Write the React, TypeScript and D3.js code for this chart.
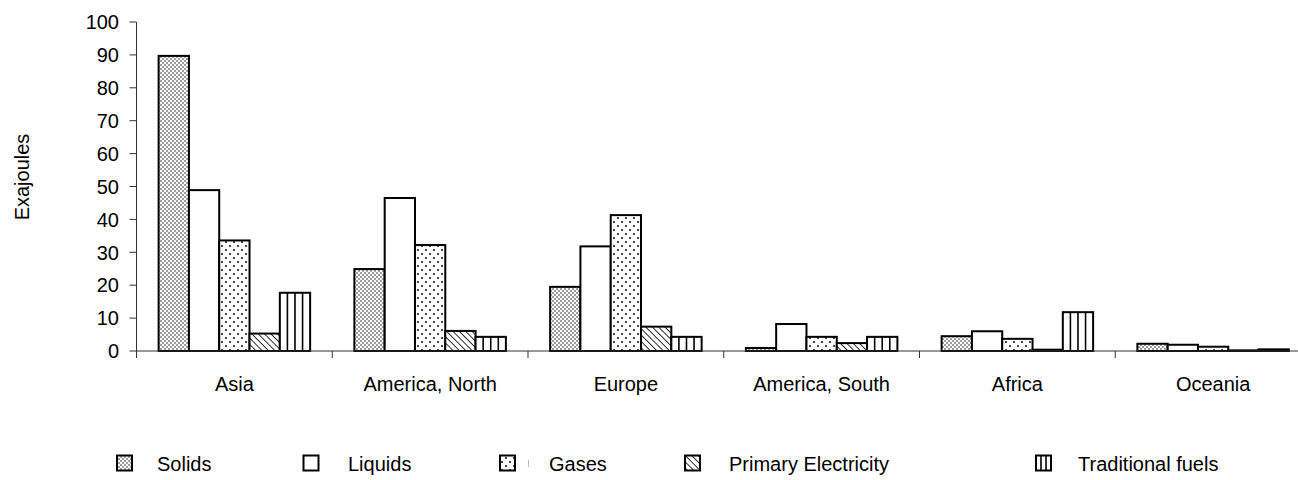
import React from 'react';
import * as d3 from 'd3';

const regions = ['Asia', 'America, North', 'Europe', 'America, South', 'Africa', 'Oceania'];
const seriesNames = ['Solids', 'Liquids', 'Gases', 'Primary Electricity', 'Traditional fuels'];

const solids = [89.7, 24.9, 19.5, 0.9, 4.5, 2.2];
const liquids = [48.9, 46.5, 31.8, 8.2, 6.0, 1.9];
const gases = [33.6, 32.2, 41.3, 4.3, 3.7, 1.3];
const primaryElectricity = [5.3, 6.1, 7.4, 2.4, 0.4, 0.2];
const traditionalFuels = [17.7, 4.3, 4.3, 4.3, 11.8, 0.5];

const yTicks = [0, 10, 20, 30, 40, 50, 60, 70, 80, 90, 100];

const seriesValues = [solids, liquids, gases, primaryElectricity, traditionalFuels];

const WIDTH = 1298,
    HEIGHT = 480;

const PLOT = {
    LEFT: 136.5,
    RIGHT: 1311,
    TOP: 22,
    BOTTOM: 351
};

const FONT = '"Liberation Sans", Arial, sans-serif';

// legend layout: swatch left edge and text left edge
const legendSwatchX = [117, 303.5, 500, 685, 1036];
const legendTextX = [157, 348, 549, 729, 1078];

const fills = ['url(#pat-solids)', '#fff', 'url(#pat-gases)', 'url(#pat-elec)', '#fff'];

const VerticalLines = ({ x, y, w, h, cells }: { x: number, y: number, w: number, h: number, cells: number }) => {
    const lines = d3.range(1, cells).map(k => x + k * w / cells);
    return (
        <g>
            {lines.map((lx, i) => <line key={i} x1={lx} x2={lx} y1={y} y2={y + h} stroke='#000' strokeWidth={1.6} />)}
        </g>
    );
};

const App = () => {
    const x = d3.scaleBand<string>().domain(regions).range([PLOT.LEFT, PLOT.RIGHT]).paddingInner(0).paddingOuter(0);
    const xInner = d3.scaleBand<string>().domain(seriesNames).range([0, x.bandwidth()]).paddingInner(0).paddingOuter(0.73);
    const y = d3.scaleLinear().domain([0, 100]).range([PLOT.BOTTOM, PLOT.TOP]);

    const boundaries = regions.map(r => x(r) as number).concat([PLOT.RIGHT]);

    const bars = regions.flatMap((r, ri) => seriesNames.map((s, si) => {
        const v = seriesValues[si][ri];
        const bx = (x(r) as number) + (xInner(s) as number);
        const bw = xInner.bandwidth();
        const by = y(v);
        const bh = y(0) - by;
        return (
            <g key={`bar-${ri}-${si}`}>
                <rect x={bx} y={by} width={bw} height={bh} fill={fills[si]} stroke='none' />
                {si === 4 && <VerticalLines x={bx} y={by} w={bw} h={bh} cells={4} />}
                <rect x={bx} y={by} width={bw} height={bh} fill='none' stroke='#000' strokeWidth={2} />
            </g>
        );
    }));

    return (
        <svg width={WIDTH} height={HEIGHT} style={{ position: 'absolute', left: 0, top: 0, background: '#fff' }}>
            <defs>
                <pattern id='pat-solids' patternUnits='userSpaceOnUse' width={4} height={4}>
                    <rect width={4} height={4} fill='#fff' />
                    <circle cx={1} cy={1} r={0.8} fill='#222' />
                    <circle cx={3} cy={3} r={0.8} fill='#222' />
                </pattern>
                <pattern id='pat-gases' patternUnits='userSpaceOnUse' width={8} height={8}>
                    <rect width={8} height={8} fill='#fff' />
                    <circle cx={2} cy={2} r={1} fill='#111' />
                    <circle cx={6} cy={6} r={1} fill='#111' />
                </pattern>
                <pattern id='pat-elec' patternUnits='userSpaceOnUse' width={4.5} height={4.5} patternTransform='rotate(-45)'>
                    <rect width={4.5} height={4.5} fill='#fff' />
                    <line x1={0} y1={0} x2={0} y2={4.5} stroke='#000' strokeWidth={1.6} />
                </pattern>
            </defs>

            {/* y axis */}
            <line x1={PLOT.LEFT} x2={PLOT.LEFT} y1={PLOT.TOP} y2={PLOT.BOTTOM} stroke='#333' strokeWidth={1} />
            {yTicks.map(t => (
                <g key={`yt-${t}`}>
                    <line x1={PLOT.LEFT - 7} x2={PLOT.LEFT} y1={y(t)} y2={y(t)} stroke='#333' strokeWidth={1} />
                    <text x={119} y={y(t)} dy='0.36em' textAnchor='end' fontFamily={FONT} fontSize={20} fill='#000'>{t}</text>
                </g>
            ))}
            <text transform={`translate(${29},${177}) rotate(-90)`} textAnchor='middle' fontFamily={FONT} fontSize={20} fill='#000'>Exajoules</text>

            {bars}

            {/* x axis */}
            <line x1={PLOT.LEFT} x2={PLOT.RIGHT} y1={PLOT.BOTTOM} y2={PLOT.BOTTOM} stroke='#333' strokeWidth={1} />
            {boundaries.map((b, i) => (
                <line key={`xt-${i}`} x1={b} x2={b} y1={PLOT.BOTTOM} y2={PLOT.BOTTOM + 7} stroke='#333' strokeWidth={1} />
            ))}
            {regions.map(r => (
                <text key={`xl-${r}`} x={(x(r) as number) + x.bandwidth() / 2} y={391} textAnchor='middle' fontFamily={FONT} fontSize={20} fill='#000'>{r}</text>
            ))}

            {/* legend */}
            {seriesNames.map((s, i) => (
                <g key={`lg-${s}`}>
                    <rect x={legendSwatchX[i]} y={455.5} width={15} height={15} fill={fills[i]} />
                    {i === 4 && <VerticalLines x={legendSwatchX[i]} y={455.5} w={15} h={15} cells={3} />}
                    <rect x={legendSwatchX[i]} y={455.5} width={15} height={15} fill='none' stroke='#000' strokeWidth={2} />
                    <text x={legendTextX[i]} y={471} fontFamily={FONT} fontSize={20} fill='#000'>{s}</text>
                </g>
            ))}
            <line x1={528.5} x2={528.5} y1={460} y2={467} stroke='#bbb' strokeWidth={1} />
        </svg>
    );
};

export default App;
